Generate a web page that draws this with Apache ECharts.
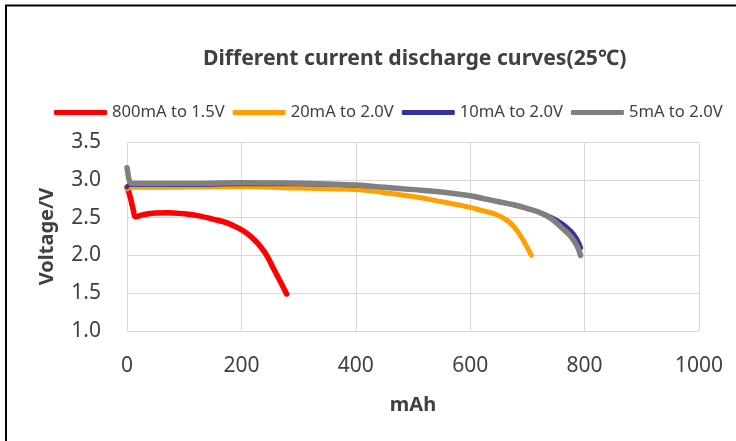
<!DOCTYPE html>
<html>
<head>
<meta charset="utf-8">
<script src="https://cdn.jsdelivr.net/npm/echarts@6/dist/echarts.min.js"></script>
<style>html,body{margin:0;padding:0;background:#fff;}#c{width:736px;height:441px;}</style>
</head>
<body>
<div id="c"></div>
<script>
const titleText = 'Different current discharge curves(25℃)';
const seriesNames = ['800mA to 1.5V', '20mA to 2.0V', '10mA to 2.0V', '5mA to 2.0V'];
const seriesColors = ['#ff0000', '#ffa000', '#333399', '#808080'];
const xTicks = [0, 200, 400, 600, 800, 1000];
const yTicks = [1.0, 1.5, 2.0, 2.5, 3.0, 3.5];

const redX = [0, 3, 7, 11, 14.5, 20, 30, 50, 70, 100, 128, 150, 175, 195, 210, 222, 233, 245, 256.5, 268, 279];
const redY = [2.90, 2.84, 2.73, 2.60, 2.51, 2.52, 2.54, 2.56, 2.565, 2.55, 2.52, 2.48, 2.43, 2.36, 2.29, 2.21, 2.12, 1.99, 1.82, 1.655, 1.49];

const orangeX = [0, 3, 10, 50, 100, 200, 300, 400, 450, 500, 550, 600, 620, 640, 653, 665, 676, 688, 700, 707];
const orangeY = [2.88, 2.90, 2.90, 2.90, 2.905, 2.91, 2.89, 2.87, 2.83, 2.78, 2.71, 2.635, 2.595, 2.555, 2.515, 2.46, 2.385, 2.26, 2.10, 2.00];

const blueX = [0, 3, 10, 100, 200, 300, 400, 500, 600, 650, 700, 720, 741, 760, 777, 787, 794];
const blueY = [2.90, 2.93, 2.93, 2.93, 2.94, 2.94, 2.92, 2.87, 2.79, 2.71, 2.62, 2.575, 2.51, 2.43, 2.32, 2.22, 2.10];

const grayX = [0, 1, 3, 6, 10, 50, 100, 200, 300, 400, 450, 500, 550, 600, 618, 650, 676, 700, 717, 741, 758, 776, 787, 793];
const grayY = [3.16, 3.12, 3.02, 2.96, 2.95, 2.95, 2.95, 2.96, 2.955, 2.93, 2.90, 2.87, 2.84, 2.79, 2.76, 2.71, 2.67, 2.62, 2.58, 2.49, 2.38, 2.25, 2.12, 2.00];

function pairs(xs, ys) { return xs.map((x, i) => [x, ys[i]]); }
const seriesData = [pairs(redX, redY), pairs(orangeX, orangeY), pairs(blueX, blueY), pairs(grayX, grayY)];
const widths = [5.5, 5, 4, 5.5];

const FONT = 'Noto Sans';
const chart = echarts.init(document.getElementById('c'));
chart.setOption({
  backgroundColor: '#fff',
  animation: false,
  title: {
    text: titleText, left: 198, top: 43,
    textStyle: { fontFamily: FONT, fontSize: 21.2, fontWeight: 'bold', color: '#404040' }
  },
  legend: {
    data: seriesNames, left: 49, top: 99, itemWidth: 53, itemHeight: 5, itemGap: 8,
    icon: 'roundRect',
    textStyle: { fontFamily: FONT, fontSize: 16.6, color: '#404040' }
  },
  grid: { left: 127, right: 37, top: 142, bottom: 110, containLabel: false },
  xAxis: {
    type: 'value', min: xTicks[0], max: xTicks[xTicks.length - 1], interval: 200,
    name: 'mAh', nameLocation: 'middle', nameGap: 64,
    nameTextStyle: { fontFamily: FONT, fontSize: 20, fontWeight: 'bold', color: '#404040' },
    axisLine: { show: true, lineStyle: { color: '#d9d9d9', width: 1 } },
    axisTick: { show: false },
    axisLabel: { fontFamily: FONT, fontSize: 21, color: '#404040', margin: 25, formatter: v => String(v) },
    splitLine: { show: true, lineStyle: { color: '#d9d9d9', width: 1 } }
  },
  yAxis: {
    type: 'value', min: yTicks[0], max: yTicks[yTicks.length - 1], interval: 0.5,
    name: 'Voltage/V', nameLocation: 'middle', nameGap: 70,
    nameTextStyle: { fontFamily: FONT, fontSize: 20, fontWeight: 'bold', color: '#404040' },
    axisLine: { show: false },
    axisTick: { show: false },
    axisLabel: { fontFamily: FONT, fontSize: 21, color: '#404040', margin: 26, formatter: v => v.toFixed(1) },
    splitLine: { show: true, lineStyle: { color: '#d9d9d9', width: 1 } }
  },
  graphic: [
    { type: 'line', shape: { x1: 6, y1: 5, x2: 6, y2: 441 }, style: { stroke: '#000', lineWidth: 2 } },
    { type: 'line', shape: { x1: 5, y1: 5.5, x2: 736, y2: 5.5 }, style: { stroke: '#000', lineWidth: 2 } }
  ],
  series: seriesNames.map((n, i) => ({
    name: n, type: 'line', data: seriesData[i], showSymbol: false, symbol: 'none',
    smooth: 0.4, color: seriesColors[i],
    lineStyle: { width: widths[i], color: seriesColors[i], cap: 'round', join: 'round' },
    z: 2 + i
  }))
});
</script>
</body>
</html>
